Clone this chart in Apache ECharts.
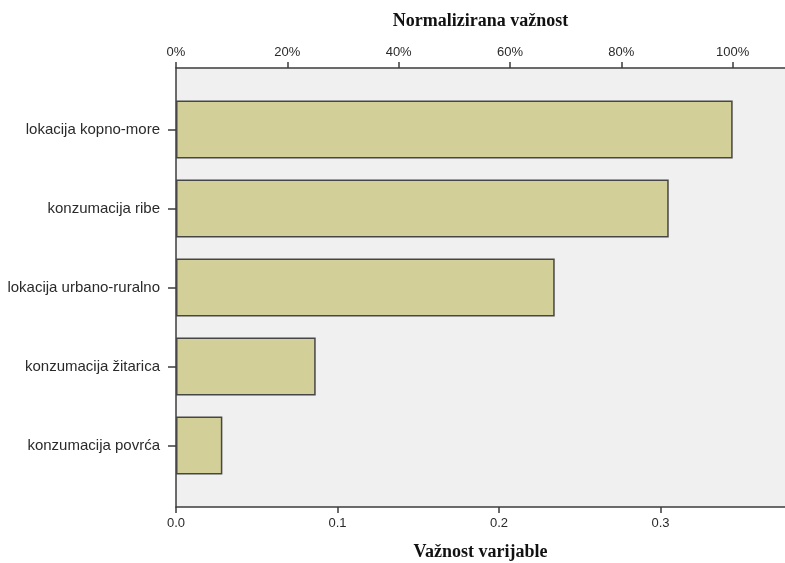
<!DOCTYPE html>
<html>
<head>
<meta charset="utf-8">
<script src="https://cdn.jsdelivr.net/npm/echarts@6/dist/echarts.min.js"></script>
<style>
  html, body { margin: 0; padding: 0; background: #fff; }
  #chart { width: 785px; height: 563px; }
</style>
</head>
<body>
<div id="chart"></div>
<script>
// varijable (odozgo prema dolje)
const categories = ['lokacija kopno-more', 'konzumacija ribe', 'lokacija urbano-ruralno', 'konzumacija žitarica', 'konzumacija povrća'];
// važnost varijable
const importance = [0.3447, 0.3051, 0.2345, 0.0865, 0.0287];

const axisMax = 0.3771;
// gornja os: normalizirana važnost u % (100% = najveća važnost)
const pctMax = axisMax / Math.max(...importance) * 100;

const lineColor = '#3c3c3c';
const labelFont = { fontFamily: 'Liberation Sans, Arial', fontSize: 13, color: '#2a2a2a' };
const titleFont = { fontFamily: 'Liberation Serif, Times New Roman', fontSize: 18, fontWeight: 'bold', color: '#111' };

const myChart = echarts.init(document.getElementById('chart'));
myChart.setOption({
  animation: false,
  grid: [
    { left: 176, right: 0, top: 68, bottom: 56, show: true, backgroundColor: '#f0f0f0', borderWidth: 0, outerBoundsMode: 'none' },
    { left: 176, right: 0, top: 90, bottom: 78, outerBoundsMode: 'none' }
  ],
  xAxis: [
    {
      gridIndex: 0, type: 'value', position: 'bottom', min: 0, max: axisMax, interval: 0.1,
      name: 'Važnost varijable', nameLocation: 'middle', nameGap: 36, nameTextStyle: titleFont,
      axisLine: { show: true, lineStyle: { color: lineColor, width: 1.5 } },
      axisTick: { show: true, length: 6, lineStyle: { color: lineColor, width: 1.5 } },
      axisLabel: Object.assign({ margin: 10, showMaxLabel: false, formatter: v => v.toFixed(1) }, labelFont),
      splitLine: { show: false }
    },
    {
      gridIndex: 0, type: 'value', position: 'top', min: 0, max: pctMax, interval: 20,
      name: 'Normalizirana važnost', nameLocation: 'middle', nameGap: 38, nameTextStyle: titleFont,
      axisLine: { show: true, lineStyle: { color: lineColor, width: 1.5 } },
      axisTick: { show: true, length: 6, lineStyle: { color: lineColor, width: 1.5 } },
      axisLabel: Object.assign({ margin: 9, showMaxLabel: false, formatter: '{value}%' }, labelFont),
      splitLine: { show: false }
    },
    {
      gridIndex: 1, type: 'value', min: 0, max: axisMax, show: false
    }
  ],
  yAxis: [
    {
      gridIndex: 0, type: 'value', min: 0, max: 1,
      axisLine: { show: true, lineStyle: { color: lineColor, width: 1.5 } },
      axisTick: { show: false }, axisLabel: { show: false }, splitLine: { show: false }
    },
    {
      gridIndex: 1, type: 'category', data: categories, inverse: true,
      axisLine: { show: false },
      axisTick: { show: true, alignWithLabel: true, length: 8, lineStyle: { color: lineColor, width: 1.5 } },
      axisLabel: Object.assign({ margin: 16 }, labelFont, { fontSize: 15 })
    }
  ],
  series: [
    {
      type: 'bar',
      xAxisIndex: 2,
      yAxisIndex: 1,
      data: importance,
      barWidth: 58,
      itemStyle: { color: '#d3cf98', borderColor: '#464646', borderWidth: 1.5 }
    }
  ]
});
</script>
</body>
</html>
